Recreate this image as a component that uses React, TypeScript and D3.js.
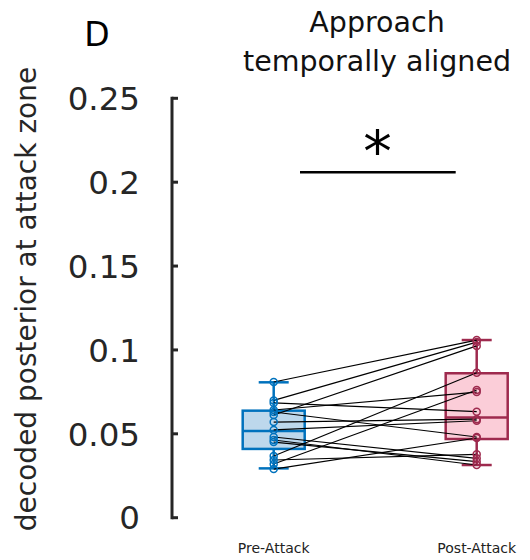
import React from "react";
import * as d3 from "d3";

const categories = ["Pre-Attack", "Post-Attack"];
const preValues = [0.0809, 0.0699, 0.0612, 0.0642, 0.0368, 0.032, 0.029, 0.063, 0.0684, 0.0523, 0.057, 0.0481, 0.0451, 0.0463, 0.0344];
const postValues = [0.1059, 0.1047, 0.1024, 0.0749, 0.0864, 0.0761, 0.0475, 0.0481, 0.0632, 0.0578, 0.0587, 0.0354, 0.0334, 0.0314, 0.0378];
// box stats: [lowWhisker, q1, median, q3, highWhisker]
const preBox = [0.0294, 0.041, 0.0517, 0.0638, 0.0807];
const postBox = [0.0314, 0.0469, 0.0598, 0.0861, 0.1059];
const yTicks = [0, 0.05, 0.1, 0.15, 0.2, 0.25];
const yTickLabels = ["0", "0.05", "0.1", "0.15", "0.2", "0.25"];
const titleLines = ["Approach", "temporally aligned"];
const panelLabel = "D";
const yLabel = "decoded posterior at attack zone";

const FONT = "DejaVu Sans, sans-serif";

export default function App() {
  const y = d3.scaleLinear().domain([0, 0.25]).range([517.7, 98.3]);
  const x = d3.scalePoint<string>().domain(categories).range([273.7, 476.7]);
  const axisX = 172;
  const boxHalf = 31;
  const capHalf = 15;
  const styles = [
    { stroke: "#0072BD", fill: "#bdd8ec", box: preBox, vals: preValues },
    { stroke: "#9e2a4e", fill: "#fbcdd8", box: postBox, vals: postValues },
  ];
  const axisColor = "#262626";
  const xs = categories.map((c) => x(c) as number);

  return (
    <svg width={530} height={560} style={{ position: "absolute", left: 0, top: 0, background: "#fff" }}>
      {/* panel label and title */}
      <text x={97} y={45.5} fontFamily={FONT} fontSize={33} textAnchor="middle" fill="#000">{panelLabel}</text>
      {titleLines.map((t, i) => (
        <text key={t} x={377} y={32 + i * 38.5} fontFamily={FONT} fontSize={28.5} textAnchor="middle" fill="#111">{t}</text>
      ))}
      {/* y axis */}
      <line x1={axisX} x2={axisX} y1={y(0.25)} y2={y(0)} stroke={axisColor} strokeWidth={3} strokeLinecap="square" />
      {yTicks.map((t, i) => (
        <g key={t}>
          <line x1={axisX} x2={axisX + 6} y1={y(t)} y2={y(t)} stroke={axisColor} strokeWidth={3} />
          <text x={140} y={y(t)} dy="0.36em" fontFamily={FONT} fontSize={32.5} textAnchor="end" fill={axisColor}>{yTickLabels[i]}</text>
        </g>
      ))}
      <text transform={`translate(36, 299) rotate(-90)`} fontFamily={FONT} fontSize={28} textAnchor="middle" fill={axisColor}>{yLabel}</text>
      {/* boxes */}
      {styles.map((s, i) => {
        const cx = xs[i];
        const [lo, q1, med, q3, hi] = s.box;
        return (
          <g key={i}>
            <rect x={cx - boxHalf} y={y(q3)} width={boxHalf * 2} height={y(q1) - y(q3)} fill={s.fill} stroke={s.stroke} strokeWidth={2.5} />
            <line x1={cx - boxHalf} x2={cx + boxHalf} y1={y(med)} y2={y(med)} stroke={s.stroke} strokeWidth={2.5} />
            <line x1={cx} x2={cx} y1={y(q3)} y2={y(hi)} stroke={s.stroke} strokeWidth={2.5} />
            <line x1={cx} x2={cx} y1={y(q1)} y2={y(lo)} stroke={s.stroke} strokeWidth={2.5} />
            <line x1={cx - capHalf} x2={cx + capHalf} y1={y(hi)} y2={y(hi)} stroke={s.stroke} strokeWidth={2.5} />
            <line x1={cx - capHalf} x2={cx + capHalf} y1={y(lo)} y2={y(lo)} stroke={s.stroke} strokeWidth={2.5} />
          </g>
        );
      })}
      {/* paired lines */}
      {preValues.map((v, i) => (
        <line key={i} x1={xs[0]} x2={xs[1]} y1={y(v)} y2={y(postValues[i])} stroke="#000" strokeWidth={1.2} />
      ))}
      {/* points */}
      {styles.map((s, i) =>
        s.vals.map((v, j) => (
          <circle key={`${i}-${j}`} cx={xs[i]} cy={y(v)} r={3.5} fill="none" stroke={s.stroke} strokeWidth={1.5} />
        ))
      )}
      {/* significance */}
      <line x1={300} x2={455.7} y1={172.3} y2={172.3} stroke="#000" strokeWidth={2.5} />
      <text x={377.5} y={171} fontFamily={FONT} fontSize={57} textAnchor="middle" fill="#000">*</text>
      {/* x labels */}
      {categories.map((c, i) => (
        <text key={c} x={xs[i]} y={553} fontFamily={FONT} fontSize={14} textAnchor="middle" fill="#222">{c}</text>
      ))}
    </svg>
  );
}
